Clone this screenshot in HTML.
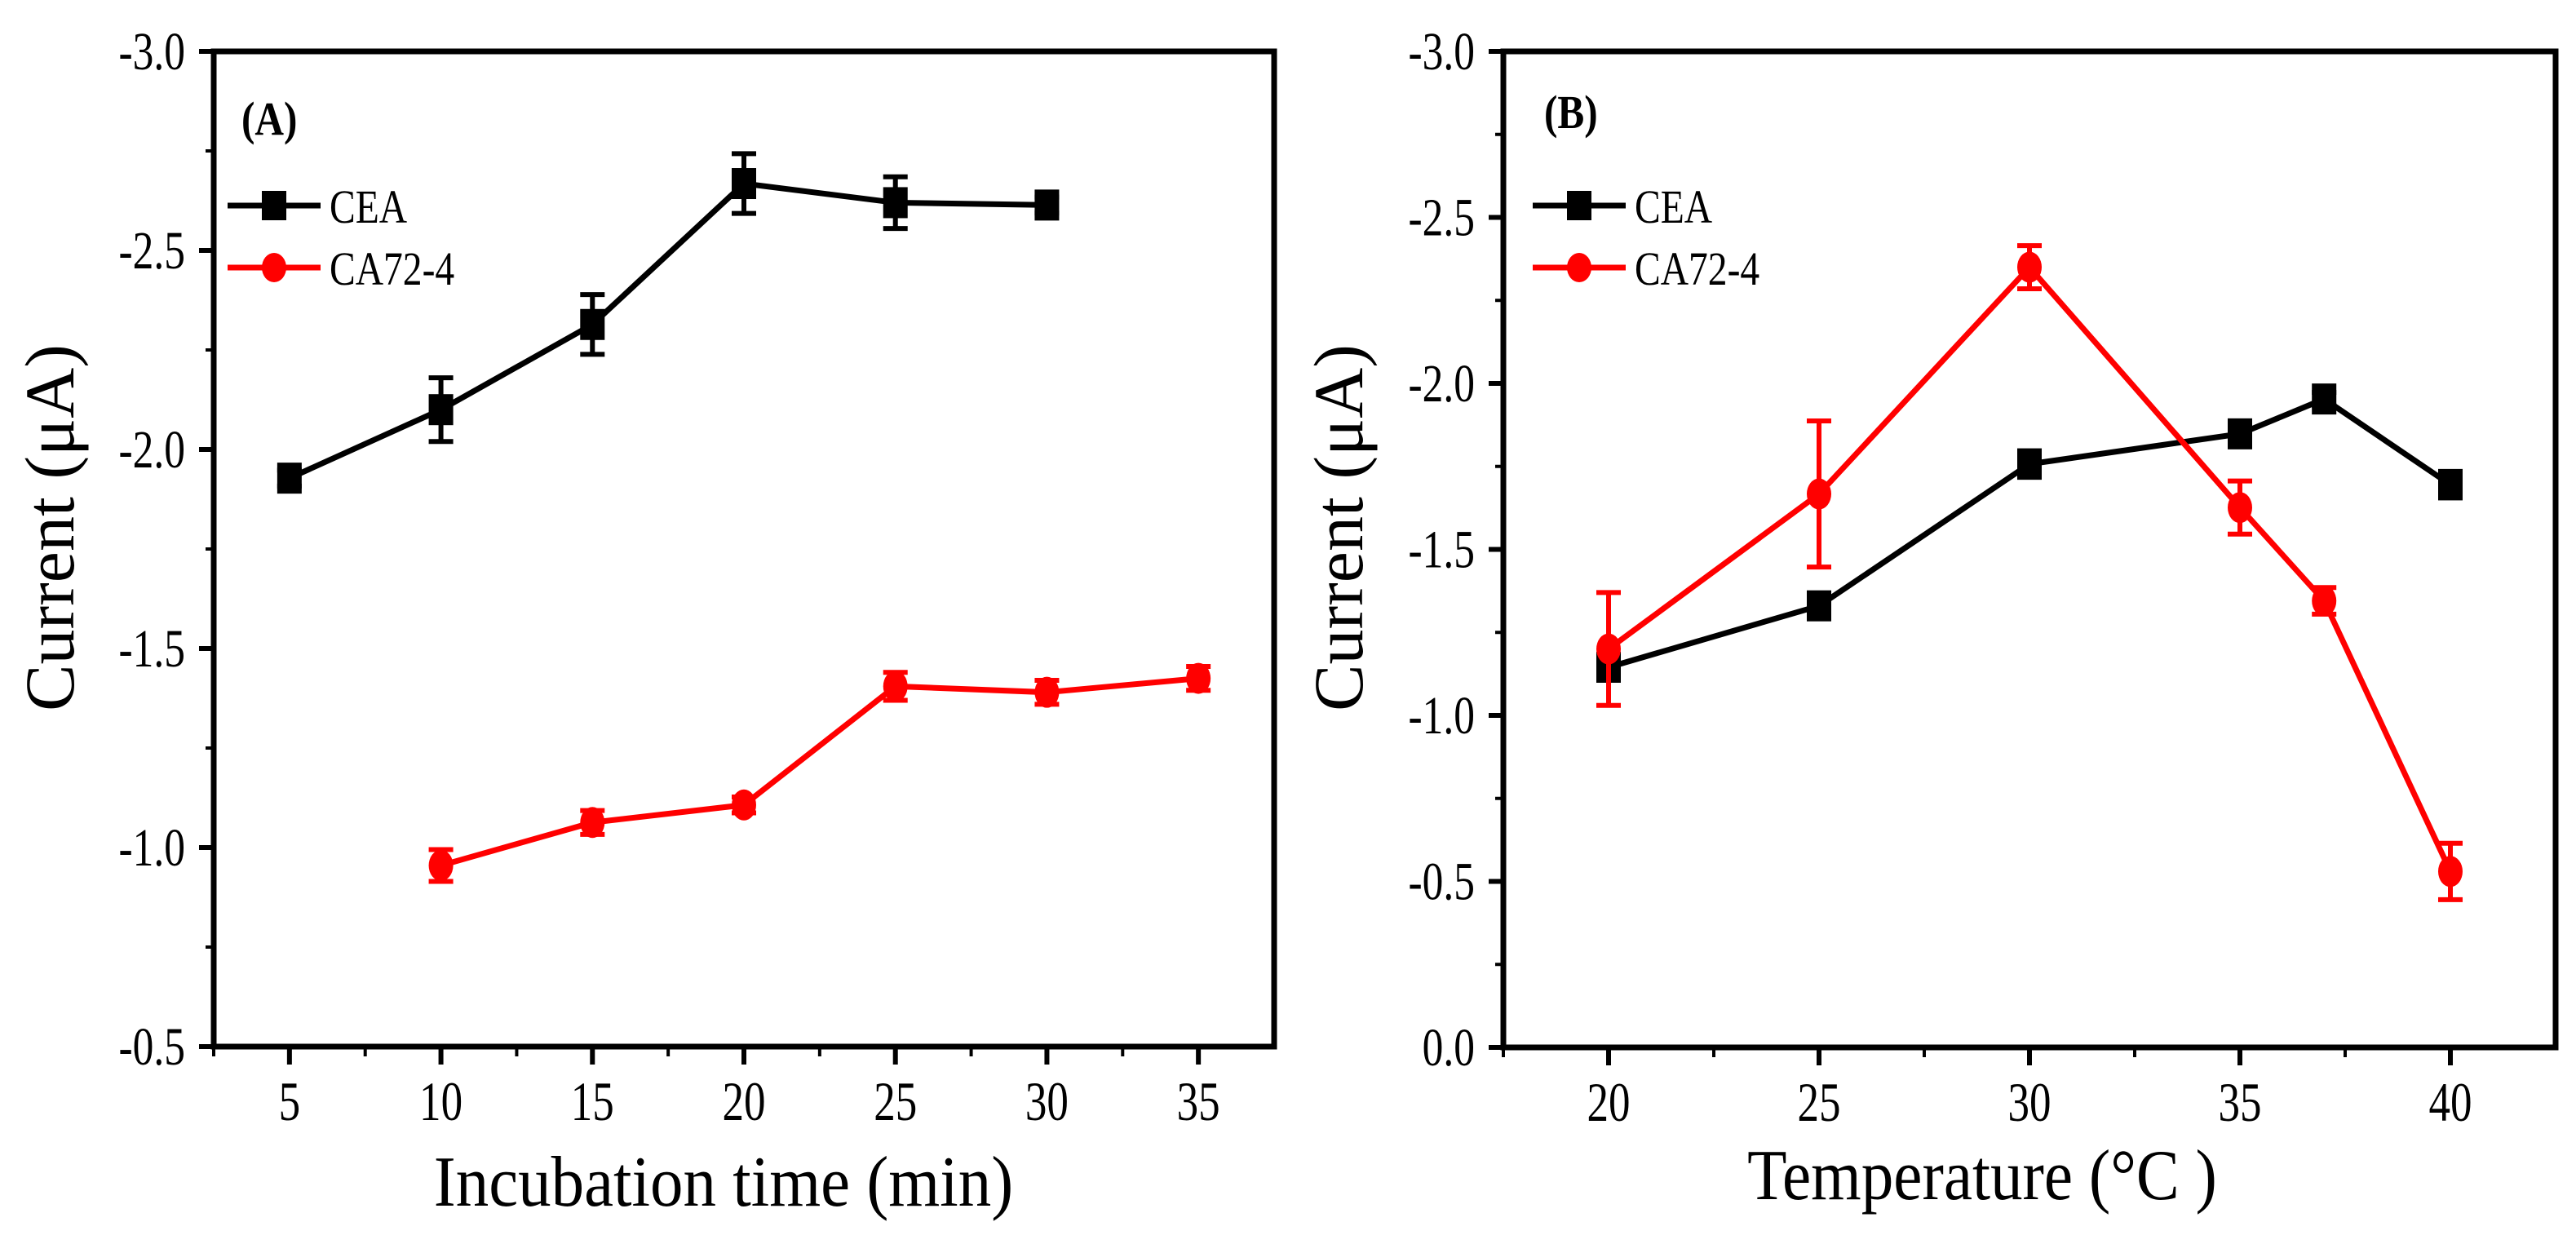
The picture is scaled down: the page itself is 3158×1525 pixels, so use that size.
<!DOCTYPE html>
<html><head><meta charset="utf-8"><style>
html,body{margin:0;padding:0;background:#fff;}
svg{display:block;font-family:"Liberation Serif",serif;}
</style></head><body>
<svg id="chart" width="3158" height="1525" viewBox="0 0 3158 1525" xmlns="http://www.w3.org/2000/svg"></svg>
<script>
// Panel A data
const timeA = [5,10,15,20,25,30,35];
const ceaA = [-1.928,-2.10,-2.314,-2.668,-2.62,-2.614,null];
const ceaAErr = [0.02,0.08,0.075,0.075,0.065,0.02,null];
const caA = [null,-0.955,-1.063,-1.107,-1.405,-1.39,-1.425];
const caAErr = [null,0.04,0.03,0.02,0.035,0.03,0.03];
const xTicksA = [5,10,15,20,25,30,35];
const yTicksA = [-3.0,-2.5,-2.0,-1.5,-1.0,-0.5];
// Panel B data
const tempB = [20,25,30,35,37,40];
const ceaB = [-1.145,-1.33,-1.757,-1.848,-1.953,-1.695];
const ceaBErr = [0.03,0.02,0.04,0.02,0.02,0.04];
const caB = [-1.20,-1.667,-2.35,-1.626,-1.345,-0.53];
const caBErr = [0.17,0.22,0.065,0.08,0.04,0.085];
const xTicksB = [20,25,30,35,40];
const yTicksB = [-3.0,-2.5,-2.0,-1.5,-1.0,-0.5,0.0];

const NS="http://www.w3.org/2000/svg";
const svg=document.getElementById('chart');
function el(tag,attrs,parent){const e=document.createElementNS(NS,tag);for(const k in attrs)e.setAttribute(k,attrs[k]);(parent||svg).appendChild(e);return e;}
function txt(s,x,y,size,anchor,parent,sx,bold){
  const t=el('text',{transform:`translate(${x},${y}) scale(${sx||0.78},1)`,'font-size':size,'text-anchor':anchor||'middle','font-weight':bold?'bold':'normal',fill:'#000'},parent);
  t.textContent=s;return t;}

function panel(cfg){
  const g=el('g',{});
  
  
  const {L,R,T,B,xmin,xmax,ymin,ymax}=cfg;
  const sx=v=>L+(v-xmin)/(xmax-xmin)*(R-L);
  const sy=v=>T+(v-ymin)/(ymax-ymin)*(B-T);
  const xt=el('g',{},g);
  
  
  cfg.xTicks.forEach(v=>{
    el('line',{x1:sx(v),x2:sx(v),y1:B,y2:B+22,stroke:'#000','stroke-width':6},xt);
    const m=v+2.5; if(m<xmax) el('line',{x1:sx(m),x2:sx(m),y1:B,y2:B+12,stroke:'#000','stroke-width':4},xt);
    txt(String(v),sx(v),B+90,68,'middle',xt);
  });
  el('line',{x1:sx(cfg.xTicks[0]-2.5),x2:sx(cfg.xTicks[0]-2.5),y1:B,y2:B+12,stroke:'#000','stroke-width':4},xt);
  const yt=el('g',{},g);
  
  
  cfg.yTicks.forEach((v,i)=>{
    el('line',{x1:L-18,x2:L,y1:sy(v),y2:sy(v),stroke:'#000','stroke-width':6},yt);
    if(i<cfg.yTicks.length-1){const m=v+0.25; el('line',{x1:L-10,x2:L,y1:sy(m),y2:sy(m),stroke:'#000','stroke-width':4},yt);}
    txt(v.toFixed(1),L-35,sy(v)+22,66,'end',yt);
  });
  const fr=el('rect',{x:L,y:T,width:R-L,height:B-T,fill:'none',stroke:'#000','stroke-width':7},g);
  
  
  const xtit=txt(cfg.xTitle,cfg.xTitleX,cfg.xTitleY,88,'middle',g,cfg.xTitleScale);
  
  
  const ytit=el('text',{transform:`translate(${cfg.yTitleX},647) rotate(-90)`,'font-size':86,'text-anchor':'middle',fill:'#000'},g);
  ytit.textContent='Current (μA)';
  
  
  const lab=txt(cfg.label,cfg.labelX,cfg.labelY,58,'start',g,0.85,true);
  
  
  cfg.series.forEach(s=>{
    const sg=el('g',{},g);
    
    
    const pts=[];
    cfg.xs.forEach((x,i)=>{if(s.ys[i]!==null)pts.push([sx(x),sy(s.ys[i])]);});
    el('polyline',{points:pts.map(p=>p[0]+','+p[1]).join(' '),fill:'none',stroke:s.color,'stroke-width':7},sg);
    cfg.xs.forEach((x,i)=>{
      if(s.ys[i]===null)return;
      const cx=sx(x),v=s.ys[i],e=s.err[i];
      const eb=el('g',{},sg);
      
      
      el('line',{x1:cx,x2:cx,y1:sy(v-e),y2:sy(v+e),stroke:s.color,'stroke-width':6},eb);
      el('line',{x1:cx-15,x2:cx+15,y1:sy(v-e),y2:sy(v-e),stroke:s.color,'stroke-width':6},eb);
      el('line',{x1:cx-15,x2:cx+15,y1:sy(v+e),y2:sy(v+e),stroke:s.color,'stroke-width':6},eb);
      let m;
      if(s.shape==='square') m=el('rect',{x:cx-15,y:sy(v)-19,width:30,height:38,fill:s.color},sg);
      else m=el('ellipse',{cx:cx,cy:sy(v),rx:15,ry:19,fill:s.color},sg);
      
      
    });
  });
  const lg=el('g',{},g);
  
  
  cfg.series.forEach((s,i)=>{
    const y=252+i*76;
    const e=el('g',{},lg);
    
    
    el('line',{x1:cfg.legX,x2:cfg.legX+114,y1:y,y2:y,stroke:s.color,'stroke-width':7},e);
    const mx=cfg.legX+57;
    if(s.shape==='square') el('rect',{x:mx-15,y:y-18,width:30,height:36,fill:s.color},e);
    else el('ellipse',{cx:mx,cy:y,rx:15,ry:18,fill:s.color},e);
    txt(s.label,cfg.legX+125,y+21,58,'start',e,0.82);
  });
}

panel({name:'panel-a',L:262,R:1562,T:63,B:1283,xmin:2.5,xmax:37.5,ymin:-3.0,ymax:-0.5,
  xs:timeA,xTicks:xTicksA,yTicks:yTicksA,xTitle:'Incubation  time (min)',xTitleX:887,xTitleY:1478,xTitleScale:0.92,
  yTitleX:90,label:'(A)',labelX:296,labelY:165,legX:279,
  series:[{name:'cea-series',label:'CEA',ys:ceaA,err:ceaAErr,color:'#000',shape:'square'},
          {name:'ca72-4-series',label:'CA72-4',ys:caA,err:caAErr,color:'#ff0000',shape:'circle'}]});
panel({name:'panel-b',L:1843,R:3133,T:63,B:1284,xmin:17.5,xmax:42.5,ymin:-3.0,ymax:0.0,
  xs:tempB,xTicks:xTicksB,yTicks:yTicksB,xTitle:'Temperature (°C )',xTitleX:2430,xTitleY:1470,xTitleScale:0.9,
  yTitleX:1670,label:'(B)',labelX:1893,labelY:157,legX:1879,
  series:[{name:'cea-series',label:'CEA',ys:ceaB,err:ceaBErr,color:'#000',shape:'square'},
          {name:'ca72-4-series',label:'CA72-4',ys:caB,err:caBErr,color:'#ff0000',shape:'circle'}]});
</script>
</body></html>
